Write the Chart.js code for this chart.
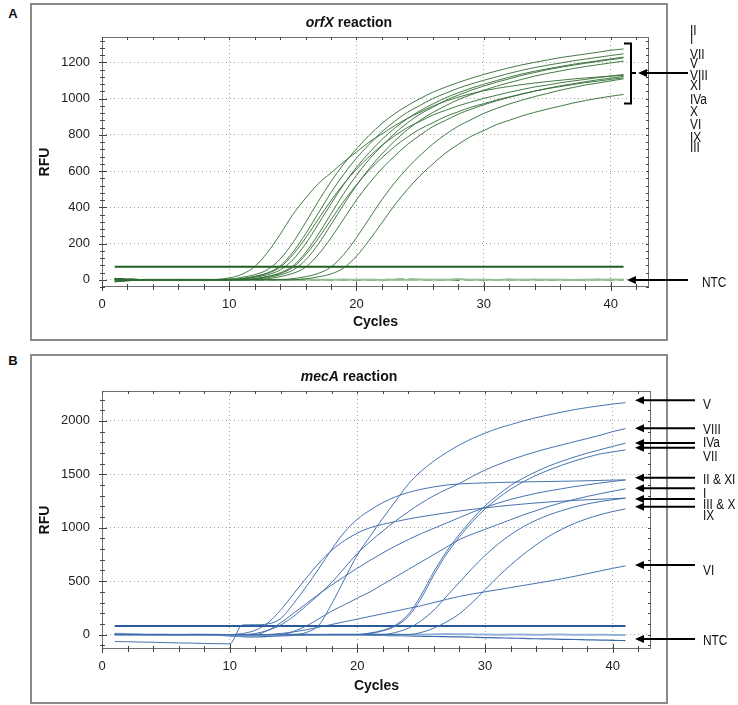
<!DOCTYPE html>
<html lang="en">
<head>
<meta charset="UTF-8">
<title>orfX and mecA amplification curves</title>
<script src="https://cdn.jsdelivr.net/npm/chart.js"></script>
<style>
  body { margin: 0; background: #fff; font-family: "Liberation Sans", Arial, sans-serif; color: #111; }
  #page { position: relative; width: 738px; height: 705px; overflow: hidden; }
  .frame { position: absolute; border: 2px solid #8a8a8a; box-sizing: border-box; }
  canvas { position: absolute; }
  .txt { position: absolute; white-space: nowrap; line-height: 1; transform: translateY(-50%); }
  .letter { font-weight: bold; font-size: 13px; transform: translate(-50%, -50%); }
  .title { font-weight: bold; font-size: 14px; transform: translate(-50%, -50%); }
  .lab { font-size: 14px; transform: translateY(-50%) scaleX(0.85); transform-origin: left center; }
  svg { position: absolute; left: 0; top: 0; }
</style>
</head>
<body>
<div id="page">
  <div class="frame" style="left:30px;top:3px;width:638px;height:338px"></div>
  <div class="frame" style="left:30px;top:354px;width:638px;height:350px"></div>
  <canvas id="orfxChart" width="634" height="334" style="left:32px;top:5px"></canvas>
  <canvas id="mecaChart" width="634" height="346" style="left:32px;top:356px"></canvas>

  <div class="txt letter" style="left:13px;top:13px">A</div>
  <div class="txt letter" style="left:13px;top:360px">B</div>
  <div class="txt title" style="left:349px;top:22px"><i>orfX</i> reaction</div>
  <div class="txt title" style="left:349px;top:376px"><i>mecA</i> reaction</div>

  <svg id="arrows" width="738" height="705"></svg>
  <div id="labels"></div>
</div>

<script>
// cycle numbers shared by every trace
const cycles = [1,2,3,4,5,6,7,8,9,10,11,12,13,14,15,16,17,18,19,20,21,22,23,24,25,26,27,28,29,30,31,32,33,34,35,36,37,38,39,40,41];

// ---- A: orfX reaction (RFU per cycle) ----
const orfxCurve1 = [-8,-4,-1,0,0,0,0,0,2,10,30,72,150,250,360,450,530,590,650,705,760,805,850,890,925,958,985,1008,1027,1043,1056,1067,1077,1086,1094,1101,1108,1114,1119,1124,1128];
const orfxCurve2 = [-12,-6,-2,0,0,0,0,0,0,3,13,28,55,114,204,316,432,542,639,722,797,862,916,961,1000,1035,1063,1089,1112,1133,1152,1170,1186,1200,1213,1226,1236,1246,1256,1267,1274];
const orfxCurve3 = [5,3,1,0,0,0,0,0,0,0,6,19,38,76,152,253,367,481,582,671,747,817,874,924,962,1000,1029,1057,1080,1101,1120,1139,1156,1171,1184,1196,1208,1218,1228,1238,1247];
const orfxCurve4 = [-10,-5,-2,0,0,0,0,0,0,0,6,17,35,69,138,230,334,437,529,610,679,742,794,840,874,909,935,960,981,1001,1018,1035,1050,1064,1075,1087,1097,1106,1116,1125,1133];
const orfxCurve5 = [0,0,0,0,0,0,0,0,0,0,3,13,28,54,110,198,307,419,526,620,701,774,836,889,933,970,1004,1032,1057,1079,1099,1118,1136,1151,1164,1177,1189,1199,1209,1219,1229];
const orfxCurve6 = [8,4,1,0,0,0,0,0,0,0,0,6,17,34,68,137,228,331,433,524,604,673,735,787,832,866,901,927,952,972,992,1009,1026,1041,1055,1066,1077,1088,1097,1106,1115];
const orfxCurve7 = [-6,-3,-1,0,0,0,0,0,0,0,0,6,19,38,75,150,251,363,476,576,664,739,808,865,915,952,990,1019,1046,1069,1090,1109,1128,1144,1159,1172,1184,1195,1205,1215,1225];
const orfxCurve8 = [0,0,0,0,0,0,0,0,0,0,0,2,12,27,53,109,196,304,415,520,613,694,766,828,880,923,960,994,1021,1046,1068,1088,1106,1124,1139,1152,1165,1177,1187,1197,1207];
const orfxCurve9 = [4,2,0,0,0,0,0,0,0,0,0,0,6,17,35,69,139,231,336,440,532,613,683,746,798,845,879,914,941,966,987,1007,1024,1041,1056,1070,1082,1093,1104,1113,1122];
const orfxCurve10 = [0,0,0,0,0,0,0,0,0,0,0,0,0,0,6,17,35,70,139,232,337,442,535,616,686,749,802,848,883,918,945,970,991,1011,1028,1046,1061,1075,1086,1098,1109];
const orfxCurve11 = [0,0,0,0,0,0,0,0,0,0,0,0,0,0,0,5,16,32,65,130,217,314,412,498,574,639,699,747,791,823,856,880,904,924,942,958,975,989,1002,1013,1023];
const orfxNtc1 = [-3,-2,-1,0,0,1,0,0,-1,0,0,1,0,0,-1,0,0,0,1,0,0,-1,0,0,1,0,0,4,0,0,-1,0,0,1,0,0,-1,0,0,1,0];
const orfxNtc2 = [6,3,1,0,0,0,-1,0,0,1,0,0,-2,0,0,1,0,0,0,-1,0,0,2,3,1,0,0,-1,0,0,0,1,0,0,-1,0,0,0,1,0,0];
const orfxThreshold = 72;
const orfxTicksX = [0, 10, 20, 30, 40];
const orfxTicksY = [0, 200, 400, 600, 800, 1000, 1200];

// ---- B: mecA reaction (RFU per cycle) ----
const mecaII = [-65,-67,-70,-72,-75,-78,-80,-83,-85,-87,90,92,100,150,290,450,620,800,960,1080,1165,1235,1290,1330,1360,1383,1400,1410,1416,1420,1423,1426,1429,1431,1433,1435,1437,1440,1443,1446,1448];
const mecaIII = [5,3,1,0,0,0,0,0,0,0,10,40,110,231,380,530,670,790,880,950,1000,1032,1058,1082,1103,1122,1140,1157,1172,1186,1199,1211,1222,1232,1241,1249,1256,1262,1267,1272,1277];
const mecaV = [3,2,1,0,0,0,0,0,0,0,0,0,0,0,0,20,90,290,520,746,920,1090,1250,1410,1530,1625,1705,1775,1835,1885,1930,1965,2000,2030,2057,2082,2105,2125,2142,2158,2171];
const mecaVIII = [0,0,0,0,0,0,0,0,0,0,0,10,40,90,170,270,375,490,625,760,870,970,1065,1150,1230,1300,1360,1415,1480,1540,1590,1635,1675,1712,1745,1775,1805,1835,1865,1900,1928];
const mecaIVa = [0,0,0,0,0,0,0,0,0,0,0,0,0,0,0,0,0,0,0,0,15,40,90,190,370,590,780,940,1080,1205,1305,1395,1465,1525,1578,1622,1662,1698,1730,1762,1791];
const mecaVII = [0,0,0,0,0,0,0,0,0,0,0,0,0,0,0,0,0,0,0,0,10,35,80,170,340,560,755,915,1055,1175,1275,1360,1430,1490,1540,1585,1625,1660,1690,1710,1729];
const mecaXI = [0,0,0,0,0,0,0,0,0,0,0,0,40,110,200,290,380,465,545,621,695,765,830,890,945,995,1045,1095,1145,1190,1230,1265,1295,1322,1345,1365,1385,1402,1418,1433,1448];
const mecaI = [0,0,0,0,0,0,0,0,0,0,0,0,0,0,30,80,150,220,280,341,400,470,540,610,680,750,820,890,940,985,1030,1075,1120,1160,1200,1235,1265,1293,1318,1342,1364];
const mecaX = [0,0,0,0,0,0,0,0,0,0,0,0,0,0,0,0,0,0,0,0,0,0,20,60,130,230,360,490,620,740,845,935,1010,1070,1120,1160,1195,1223,1245,1262,1277];
const mecaIX = [0,0,0,0,0,0,0,0,0,0,0,0,0,0,0,0,0,0,0,0,0,0,0,0,20,60,120,195,300,420,540,650,750,840,920,985,1040,1085,1122,1152,1176];
const mecaVI = [0,0,0,0,0,0,0,0,0,0,0,0,0,10,25,45,70,95,120,145,170,195,220,245,270,300,330,357,380,400,420,440,460,480,500,522,545,570,595,620,643];
const mecaNtc1 = [8,5,2,0,0,-1,0,0,-2,-5,-8,-6,-3,0,0,0,-1,0,0,0,2,0,0,-1,0,3,5,4,2,0,-1,0,0,-1,0,0,-1,-2,-2,-3,-3];
const mecaNtc2 = [0,0,0,0,0,0,0,0,-5,-12,-20,-22,-18,-12,-8,-5,-4,-3,-3,-4,-6,-8,-10,-12,-15,-18,-20,-22,-25,-28,-30,-33,-36,-39,-41,-44,-46,-49,-51,-54,-56];
const mecaThreshold = 81;
const mecaTicksX = [0, 10, 20, 30, 40];
const mecaTicksY = [0, 500, 1000, 1500, 2000];

function series(values) {
  return values.map((v, i) => ({ x: cycles[i], y: v }));
}
function flat(level) {
  return [{ x: cycles[0], y: level }, { x: cycles[cycles.length - 1], y: level }];
}

// plot frame plus tick marks on all four sides
const edgeTicks = {
  id: 'edgeTicks',
  afterDraw(chart, args, opts) {
    const { ctx, chartArea: a, scales: { x, y } } = chart;
    ctx.save();
    ctx.strokeStyle = '#6f6f6f';
    ctx.lineWidth = 1;
    ctx.strokeRect(a.left + 0.5, a.top + 0.5, a.right - a.left - 1, a.bottom - a.top - 1);
    ctx.strokeStyle = '#444';
    ctx.beginPath();
    const nx = Math.floor((x.max - x.min) / opts.xMinor);
    for (let i = 0; i <= nx; i++) {
      const v = x.min + i * opts.xMinor;
      const px = Math.round(x.getPixelForValue(v)) + 0.5;
      const major = v % 10 === 0;
      ctx.moveTo(px, a.bottom - (major ? 5 : 3));
      ctx.lineTo(px, a.bottom + (major ? 4 : 3));
      ctx.moveTo(px, a.top);
      ctx.lineTo(px, a.top + 3);
    }
    const first = Math.ceil(y.min / opts.yMinor);
    const last = Math.floor(y.max / opts.yMinor);
    for (let k = first; k <= last; k++) {
      const v = k * opts.yMinor;
      const py = Math.round(y.getPixelForValue(v)) + 0.5;
      const major = v % opts.yMajor === 0;
      ctx.moveTo(a.left - (major ? 3 : 2), py);
      ctx.lineTo(a.left + (major ? 5 : 3), py);
      ctx.moveTo(a.right, py);
      ctx.lineTo(a.right - 3, py);
    }
    ctx.stroke();
    ctx.restore();
  }
};

function buildChart(id, cfg) {
  const tickFont = { family: 'Liberation Sans', size: 13 };
  const titleFont = { family: 'Liberation Sans', size: 14, weight: 'bold' };
  return new Chart(document.getElementById(id), {
    type: 'line',
    data: { datasets: cfg.datasets },
    options: {
      responsive: false,
      animation: false,
      devicePixelRatio: 1,
      layout: { padding: { left: 0, right: cfg.padRight, top: cfg.padTop, bottom: 0 } },
      plugins: {
        legend: { display: false },
        tooltip: { enabled: false },
        edgeTicks: { xMinor: 2, yMinor: cfg.yMinor, yMajor: cfg.yMajor }
      },
      elements: {
        point: { radius: 0 },
        line: { borderWidth: 1, cubicInterpolationMode: 'monotone' }
      },
      scales: {
        x: {
          type: 'linear', min: 0, max: 43,
          afterBuildTicks: s => { s.ticks = cfg.xTicks.map(v => ({ value: v })); },
          afterFit: s => { s.height = cfg.xHeight; },
          ticks: { autoSkip: false, maxRotation: 0, padding: 10, font: tickFont, color: '#222', callback: v => String(v) },
          grid: { drawTicks: false, color: '#a6a6a6' },
          border: { display: false, dash: [1, 3] },
          title: { display: true, text: 'Cycles', font: titleFont, color: '#111', padding: { top: 0, bottom: cfg.xTitlePad } }
        },
        y: {
          type: 'linear', min: cfg.yMin, max: cfg.yMax,
          afterBuildTicks: s => { s.ticks = cfg.yTicks.map(v => ({ value: v })); },
          afterFit: s => { s.width = 70; },
          ticks: { autoSkip: false, padding: 12, font: tickFont, color: '#222', callback: v => String(v) },
          grid: { drawTicks: false, color: '#a6a6a6' },
          border: { display: false, dash: [1, 3] },
          title: { display: true, text: 'RFU', font: titleFont, color: '#111', padding: { top: 5, bottom: 0 } }
        }
      }
    },
    plugins: [edgeTicks]
  });
}

// A
const green = 'rgba(48,108,48,0.9)';
const orfxSets = [orfxCurve1, orfxCurve2, orfxCurve3, orfxCurve4, orfxCurve5, orfxCurve6,
                  orfxCurve7, orfxCurve8, orfxCurve9, orfxCurve10, orfxCurve11]
  .map(v => ({ data: series(v), borderColor: green, borderWidth: 1 }));
orfxSets.push({ data: flat(orfxThreshold), borderColor: '#1f5e1f', borderWidth: 2 });
orfxSets.push({ data: series(orfxNtc1), borderColor: '#93bf93', borderWidth: 2 });
orfxSets.push({ data: series(orfxNtc2), borderColor: '#1e5a1e', borderWidth: 1.5, borderDash: [9, 5] });

buildChart('orfxChart', {
  datasets: orfxSets, xTicks: orfxTicksX, yTicks: orfxTicksY,
  yMin: -40, yMax: 1340, yMinor: 40, yMajor: 200,
  padRight: 17, padTop: 32, xHeight: 52, xTitlePad: 8
});

// B
const blue = 'rgba(62,108,172,0.95)';
const mecaSets = [mecaII, mecaIII, mecaV, mecaVIII, mecaIVa, mecaVII, mecaXI, mecaI, mecaX, mecaIX, mecaVI]
  .map(v => ({ data: series(v), borderColor: blue, borderWidth: 1 }));
mecaSets.push({ data: flat(mecaThreshold), borderColor: '#2b5a98', borderWidth: 2 });
mecaSets.push({ data: series(mecaNtc1), borderColor: '#93b3da', borderWidth: 2 });
mecaSets.push({ data: series(mecaNtc2), borderColor: '#3a6aa8', borderWidth: 1.2 });

buildChart('mecaChart', {
  datasets: mecaSets, xTicks: mecaTicksX, yTicks: mecaTicksY,
  yMin: -135, yMax: 2280, yMinor: 100, yMajor: 500,
  padRight: 15, padTop: 35, xHeight: 53, xTitlePad: 7
});

// annotation text and arrows
const annotations = [
  ['II', 690, 29], ['I', 690, 37.5], ['VII', 690, 52.5], ['V', 690, 62], ['VIII', 690, 73.5],
  ['XI', 690, 83.5], ['IVa', 690, 97.5], ['X', 690, 110], ['VI', 690, 122.5], ['IX', 690, 135.5],
  ['III', 690, 145.5], ['NTC', 702, 281],
  ['V', 703, 402.7], ['VIII', 703, 428.3], ['IVa', 703, 440.7], ['VII', 703, 455],
  ['II & XI', 703, 477.7], ['I', 703, 491.7], ['III & X', 703, 503.3], ['IX', 703, 514],
  ['VI', 703, 569.3], ['NTC', 703, 639.3]
];
const labels = document.getElementById('labels');
annotations.forEach(([t, x, y]) => {
  const d = document.createElement('div');
  d.className = 'txt lab';
  d.style.left = x + 'px';
  d.style.top = (y + 1) + 'px';
  d.textContent = t;
  labels.appendChild(d);
});

const arrows = [
  [638, 688, 73], [627, 688, 280],
  [635, 695, 400.3], [635, 695, 428.3], [635, 695, 443], [635, 695, 447.7],
  [635, 695, 477.7], [635, 695, 488.3], [635, 695, 499], [635, 695, 506.7],
  [635, 695, 565], [635, 695, 639]
];
const svgNS = 'http://www.w3.org/2000/svg';
const svg = document.getElementById('arrows');
function el(tag, attrs) {
  const e = document.createElementNS(svgNS, tag);
  Object.entries(attrs).forEach(([k, v]) => e.setAttribute(k, v));
  svg.appendChild(e);
}
el('path', { d: 'M624 43.5 H631 V103.5 H624 M631 73 H636', stroke: '#000', 'stroke-width': 2, fill: 'none' });
arrows.forEach(([tip, tail, y]) => {
  el('line', { x1: tail, y1: y, x2: tip + 6, y2: y, stroke: '#000', 'stroke-width': 2 });
  el('polygon', { points: `${tip},${y} ${tip + 9},${y - 4} ${tip + 9},${y + 4}`, fill: '#000' });
});
</script>
</body>
</html>
